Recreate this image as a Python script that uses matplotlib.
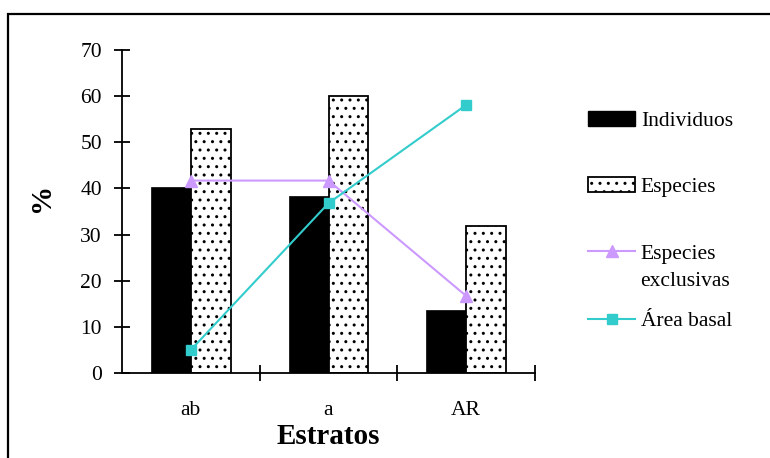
import matplotlib
matplotlib.use("Agg")
import matplotlib.pyplot as plt
from matplotlib.patches import Rectangle, Patch
from matplotlib.lines import Line2D
import numpy as np

categories = ["ab", "a", "AR"]
individuos = [40.3, 38.4, 13.7]
especies = [52.9, 60.0, 31.9]
especies_exclusivas = [41.7, 41.7, 16.7]
area_basal = [5.0, 36.8, 58.1]
yticks = [0, 10, 20, 30, 40, 50, 60, 70]

plt.rcParams['font.family'] = ['Liberation Serif', 'DejaVu Serif']
plt.rcParams['hatch.color'] = '#333333'
plt.rcParams['hatch.linewidth'] = 1.0

W, H = 770, 458
fig = plt.figure(figsize=(W / 100, H / 100), dpi=100)
ax = fig.add_axes([122 / W, 1 - 373 / H, (535 - 122) / W, (373 - 50) / H])

x = np.arange(len(categories))
bw = 0.29
lavender = '#CC99FF'
teal = '#33CCCC'
hatch = '..'

ax.bar(x - bw / 2, individuos, width=bw, color='black', edgecolor='black', linewidth=0.5, zorder=2)
ax.bar(x + bw / 2, especies, width=bw, color='white', edgecolor='black', linewidth=1.3,
       hatch=hatch, zorder=2)
ax.plot(x, especies_exclusivas, color=lavender, lw=1.5, marker='^', markersize=9, zorder=3)
ax.plot(x, area_basal, color=teal, lw=1.5, marker='s', markersize=7.5, zorder=4)

ax.set_xlim(-0.5, 2.5)
ax.set_ylim(0, 70)
ax.set_yticks(yticks)
ax.set_xticks(x)
ax.set_xticklabels(categories)
ax.set_xticks([0.5, 1.5, 2.5], minor=True)
ax.tick_params(axis='x', which='major', length=0, pad=20, labelsize=15.5)
ax.tick_params(axis='x', which='minor', direction='inout', length=11, width=1.3)
ax.tick_params(axis='y', direction='inout', length=11, width=1.3, pad=9, labelsize=15.5)
for s in ['top', 'right']:
    ax.spines[s].set_visible(False)
for s in ['left', 'bottom']:
    ax.spines[s].set_linewidth(1.3)

ax.set_xlabel('Estratos', fontsize=21, fontweight='bold')
ax.xaxis.label.set_va('center')
ax.xaxis.set_label_coords(0.5, (373 - 437) / 323)
ax.set_ylabel('%', fontsize=21, fontweight='bold')
ax.yaxis.label.set_va('center')
ax.yaxis.set_label_coords((42 - 122) / 413, (373 - 197) / 323)

# legends
fs = 15.5
entries = [
    (Patch(facecolor='black', edgecolor='black'), 'Individuos', 121),
    (Patch(facecolor='white', edgecolor='black', hatch=hatch, linewidth=1.3), 'Especies', 187),
    (Line2D([], [], color=lavender, lw=1.5, marker='^', markersize=9), 'Especies', 254),
    (Line2D([], [], color=teal, lw=1.5, marker='s', markersize=7.5), 'Área basal', 321),
]
for h, lab, yc in entries:
    leg = fig.legend([h], [lab], loc='center left', bbox_to_anchor=(588 / W, 1 - yc / H),
                     frameon=False, fontsize=fs, borderpad=0, borderaxespad=0,
                     handlelength=2.2, handletextpad=0.25, handleheight=0.7)
fig.text(640 / W, 1 - 282 / H, 'exclusivas', fontsize=fs, ha='left', va='center')

# outer frame
fig.patches.append(Rectangle((8 / W, -0.5), 1.5, 0.5 + (1 - 14 / H), transform=fig.transFigure,
                             fill=False, edgecolor='black', linewidth=1.6, zorder=0))

fig.savefig('out.png', dpi=100)
